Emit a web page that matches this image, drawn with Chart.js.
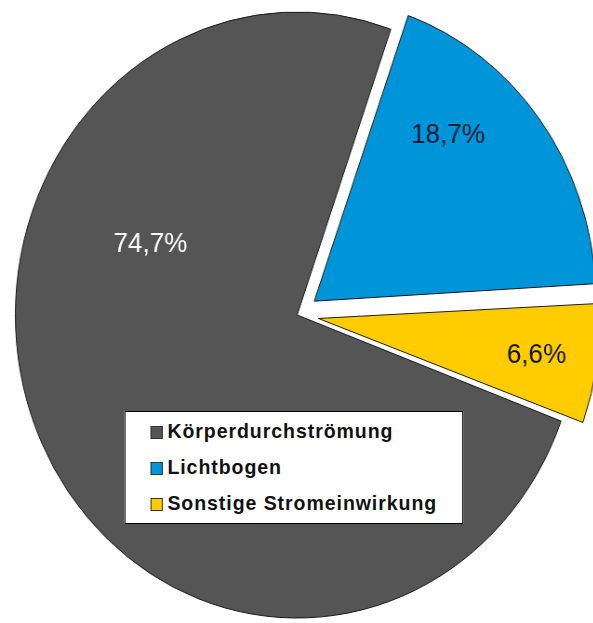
<!DOCTYPE html>
<html lang="de">
<head>
    <meta charset="UTF-8">
    <title>Stromunfälle nach Art</title>
    <script src="https://cdn.jsdelivr.net/npm/chart.js"></script>
    <style>
        html, body { margin: 0; padding: 0; background: #fff; overflow: hidden; }
        #wrap {
            position: relative;
            width: 639px;
            height: 623px;
            transform: scaleX(0.93);
            transform-origin: 0 0;
        }
        #legendBox {
            position: absolute;
            left: 134px;
            top: 411px;
            width: 364px;
            height: 113px;
            box-sizing: border-box;
            border: 1px solid #000;
            background: #fff;
            padding: 1px 0 0 27px;
            font-family: "Liberation Sans", Arial, sans-serif;
            font-weight: bold;
            font-size: 21px;
            letter-spacing: 1px;
            color: #111;
        }
        #legendBox div { height: 36px; line-height: 36px; white-space: nowrap; }
        #legendBox span.box {
            display: inline-block;
            width: 11px;
            height: 11px;
            border: 1px solid #333;
            margin-right: 5px;
            vertical-align: -1px;
        }
    </style>
</head>
<body>

<div id="wrap">
    <canvas id="pieChart" width="639" height="623"></canvas>
    <div id="legendBox"></div>
</div>

<script>
    // Data
    const categories = ['Körperdurchströmung', 'Lichtbogen', 'Sonstige Stromeinwirkung'];
    const shares = [74.7, 18.7, 6.6];

    // Colors
    const sliceColors = ['#555555', '#0094d8', '#ffcc00'];
    const labelColors = ['#ffffff', '#0b1b33', '#111111'];

    // Chart.js grows the radius of a pulled-out slice a bit, take that back
    const keepRadius = {
        id: 'keepRadius',
        afterDatasetUpdate(chart, args) {
            args.meta.data.forEach(arc => {
                const off = (arc.options.offset || 0) / 4;
                const fix = 1 - Math.sin(Math.min(Math.PI, arc.circumference || 0));
                arc.outerRadius -= off * fix;
            });
        }
    };

    // Writes the percent values onto the slices
    const sliceLabels = {
        id: 'sliceLabels',
        afterDatasetsDraw(chart, args, opts) {
            const ctx = chart.ctx;
            const meta = chart.getDatasetMeta(0);
            ctx.save();
            ctx.font = '28px "Liberation Sans", Arial, sans-serif';
            ctx.textAlign = 'center';
            ctx.textBaseline = 'middle';
            meta.data.forEach((arc, i) => {
                const p = opts.place[i];
                const a = (p.angle - 90) * Math.PI / 180;
                const r = 303 * p.r;
                ctx.fillStyle = labelColors[i];
                const txt = shares[i].toFixed(1).replace('.', ',') + '%';
                ctx.fillText(txt, arc.x + Math.cos(a) * r, arc.y + Math.sin(a) * r);
            });
            ctx.restore();
        }
    };

    const ctx = document.getElementById('pieChart').getContext('2d');
    const pieChart = new Chart(ctx, {
        type: 'pie',
        data: {
            labels: categories,
            datasets: [{
                data: shares,
                backgroundColor: sliceColors,
                borderColor: '#1a1a1a',
                borderWidth: 1,
                // Chart.js moves a slice by a quarter of this
                offset: [0, 92, 92]
            }]
        },
        options: {
            responsive: false,
            animation: false,
            rotation: 110.5,
            radius: 303,
            layout: { padding: { top: 7 } },
            events: [],
            plugins: {
                legend: { display: false },
                tooltip: { enabled: false },
                sliceLabels: {
                    place: [
                        { angle: 294, r: 0.57 },
                        { angle: 42, r: 0.80 },
                        { angle: 99, r: 0.86 }
                    ]
                }
            }
        },
        plugins: [keepRadius, sliceLabels]
    });

    // Legend box inside the pie
    const legendBox = document.getElementById('legendBox');
    const items = Chart.overrides.pie.plugins.legend.labels.generateLabels(pieChart);
    items.forEach(item => {
        const row = document.createElement('div');
        const box = document.createElement('span');
        box.className = 'box';
        box.style.background = item.fillStyle;
        row.appendChild(box);
        row.appendChild(document.createTextNode(item.text));
        legendBox.appendChild(row);
    });
</script>

</body>
</html>
